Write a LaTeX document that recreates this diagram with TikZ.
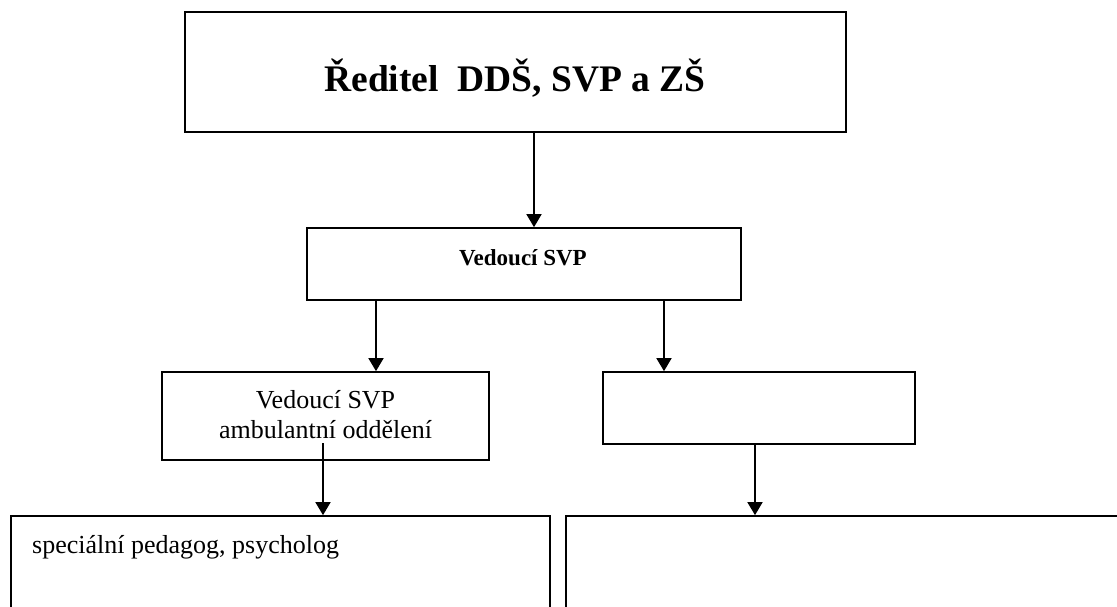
\documentclass[tikz,border=0pt]{standalone}
\usepackage{fontspec}
\setmainfont{Liberation Serif}
\usetikzlibrary{arrows.meta}
\tikzset{
  box/.style={draw, line width=1.7pt, inner sep=0pt, fill=none},
  arr/.style={line width=1.7pt, -{Triangle[length=13pt,width=15pt]}},
  body/.style={inner sep=0pt, font=\fontsize{26}{30}\selectfont},
}
\begin{document}
\begin{tikzpicture}[x=1pt,y=-1pt]
\useasboundingbox (0,0) rectangle (1117,606);
\clip (0,0) rectangle (1117,606);
% boxes
\node[box, minimum width=661pt, minimum height=120pt] (top) at (515.5,72) {};
\node[box, minimum width=434pt, minimum height=72pt] (mid) at (524,264) {};
\node[box, minimum width=327pt, minimum height=88pt] (ml) at (325.5,416) {};
\node[box, minimum width=312pt, minimum height=72pt] (mr) at (759,408) {};
\node[box, minimum width=539pt, minimum height=140pt] (bl) at (280.5,586) {};
\node[box, minimum width=559pt, minimum height=140pt] (br) at (845.5,586) {};
% texts
\node[anchor=base, inner sep=0pt] (title) at (515,91)
  {\fontsize{37.5}{42}\selectfont\bfseries Ředitel\ \ DDŠ, SVP a ZŠ};
\node[anchor=base, inner sep=0pt, font=\fontsize{23}{28}\selectfont\bfseries] (midt) at (523,265) {Vedoucí SVP};
\node[anchor=base, body] (ml1) at (325.5,408) {Vedoucí SVP};
\node[anchor=base, body] (ml2) at (325.5,438) {ambulantní oddělení};
\node[anchor=base west, body] (blt) at (32,553) {speciální pedagog, psycholog};
% connectors
\coordinate (a1) at (534,132);
\draw[arr] (a1) -- (a1 |- mid.north);
\coordinate (a2) at (376,300);
\draw[arr] (a2) -- (a2 |- ml.north);
\coordinate (a3) at (664,300);
\draw[arr] (a3) -- (a3 |- mr.north);
\coordinate (a4) at (323,443);
\draw[arr] (a4) -- (a4 |- bl.north);
\coordinate (a5) at (755,444);
\draw[arr] (a5) -- (a5 |- br.north);
\end{tikzpicture}
\end{document}
